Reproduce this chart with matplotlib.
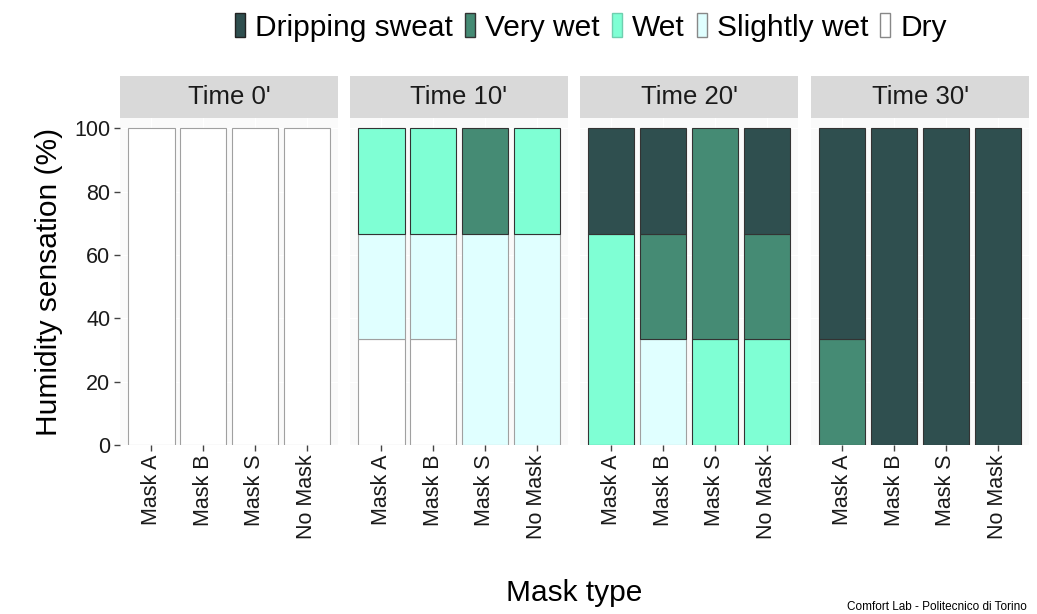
import matplotlib
matplotlib.use("Agg")
import matplotlib.pyplot as plt
from matplotlib.patches import Patch
import numpy as np

plt.rcParams['font.family'] = ['Liberation Sans', 'DejaVu Sans']

masks = ["Mask A", "Mask B", "Mask S", "No Mask"]
times = ["Time 0'", "Time 10'", "Time 20'", "Time 30'"]
# stacking order: bottom -> top
levels = ["Dry", "Slightly wet", "Wet", "Very wet", "Dripping sweat"]
colors = {"Dry": "#FFFFFF", "Slightly wet": "#E0FFFF", "Wet": "#7FFFD4",
          "Very wet": "#458B74", "Dripping sweat": "#2F4F4F"}

# percentages [time][mask]
dry = [[100, 100, 100, 100], [33.3, 33.3, 0, 0], [0, 0, 0, 0], [0, 0, 0, 0]]
slightly_wet = [[0, 0, 0, 0], [33.3, 33.3, 66.7, 66.7], [0, 33.3, 0, 0], [0, 0, 0, 0]]
wet = [[0, 0, 0, 0], [33.4, 33.4, 0, 33.3], [66.7, 0, 33.3, 33.3], [0, 0, 0, 0]]
very_wet = [[0, 0, 0, 0], [0, 0, 33.3, 0], [0, 33.3, 66.7, 33.4], [33.3, 0, 0, 0]]
dripping = [[0, 0, 0, 0], [0, 0, 0, 0], [33.3, 33.4, 0, 33.3], [66.7, 100, 100, 100]]

data = {"Dry": dry, "Slightly wet": slightly_wet, "Wet": wet,
        "Very wet": very_wet, "Dripping sweat": dripping}

W, H = 1037, 614
fig = plt.figure(figsize=(W / 100, H / 100), dpi=100)

panel_lefts = [120, 350, 580, 811]
panel_w = 218
top_px, bot_px = 118, 445
strip_top = 75

x = np.arange(1, len(masks) + 1)
for ti, t in enumerate(times):
    lx = panel_lefts[ti]
    ax = fig.add_axes([lx / W, (H - bot_px) / H, panel_w / W, (bot_px - top_px) / H])
    ax.set_facecolor("#FAFAFA")
    bottom = np.zeros(len(masks))
    for lev in levels:
        vals = np.array(data[lev][ti], dtype=float)
        ec = "#A0A0A0" if lev in ("Dry", "Slightly wet") else "#333333"
        mask = vals > 0
        if mask.any():
            ax.bar(x[mask], vals[mask], width=0.9, bottom=bottom[mask], color=colors[lev],
                   edgecolor=ec, linewidth=0.8, zorder=3)
        bottom += vals
    ax.set_xlim(0.4, 4.6)
    ax.set_ylim(0, 103.2)
    ax.set_yticks([0, 20, 40, 60, 80, 100])
    ax.set_xticks(x)
    ax.set_xticklabels(masks, rotation=90, fontsize=15.5, color="#1A1A1A")
    ax.grid(True, color="white", linewidth=1.0, zorder=0)
    ax.set_axisbelow(True)
    for s in ax.spines.values():
        s.set_visible(False)
    ax.tick_params(axis="both", length=4, width=1, color="#444444", pad=3)
    if ti == 0:
        ax.tick_params(axis="y", labelsize=15.5, labelcolor="#1A1A1A")
        ax.set_ylabel("Humidity sensation (%)", fontsize=21.5, labelpad=8)
    else:
        ax.tick_params(axis="y", labelleft=False, length=0)
    # strip
    sax = fig.add_axes([lx / W, (H - top_px) / H, panel_w / W, (top_px - strip_top - 1) / H])
    sax.set_facecolor("#D9D9D9")
    sax.set_xticks([])
    sax.set_yticks([])
    for s in sax.spines.values():
        s.set_visible(False)
    sax.text(0.5, 0.5, t, ha="center", va="center", fontsize=18.5,
             color="#1A1A1A", transform=sax.transAxes)

fig.text(574 / W, 1 - 593 / H, "Mask type", ha="center", va="center", fontsize=21.5)
fig.text(1027 / W, 1 - 607 / H, "Comfort Lab - Politecnico di Torino",
         ha="right", va="center", fontsize=8.5)

legend_order = ["Dripping sweat", "Very wet", "Wet", "Slightly wet", "Dry"]
legend_edges = {"Dripping sweat": "#222222", "Very wet": "#333333", "Wet": "#6FCFAF",
                "Slightly wet": "#888888", "Dry": "#888888"}
handles = [Patch(facecolor=colors[l], edgecolor=legend_edges[l], linewidth=1.0, label=l)
           for l in legend_order]
fig.legend(handles=handles, loc="center", bbox_to_anchor=(591 / W, 1 - 27.5 / H),
           ncol=5, frameon=False, fontsize=21.5, handlelength=0.33, handleheight=0.85,
           handletextpad=0.35, columnspacing=0.4, borderaxespad=0)

fig.savefig("out.png", dpi=100, facecolor="white")
